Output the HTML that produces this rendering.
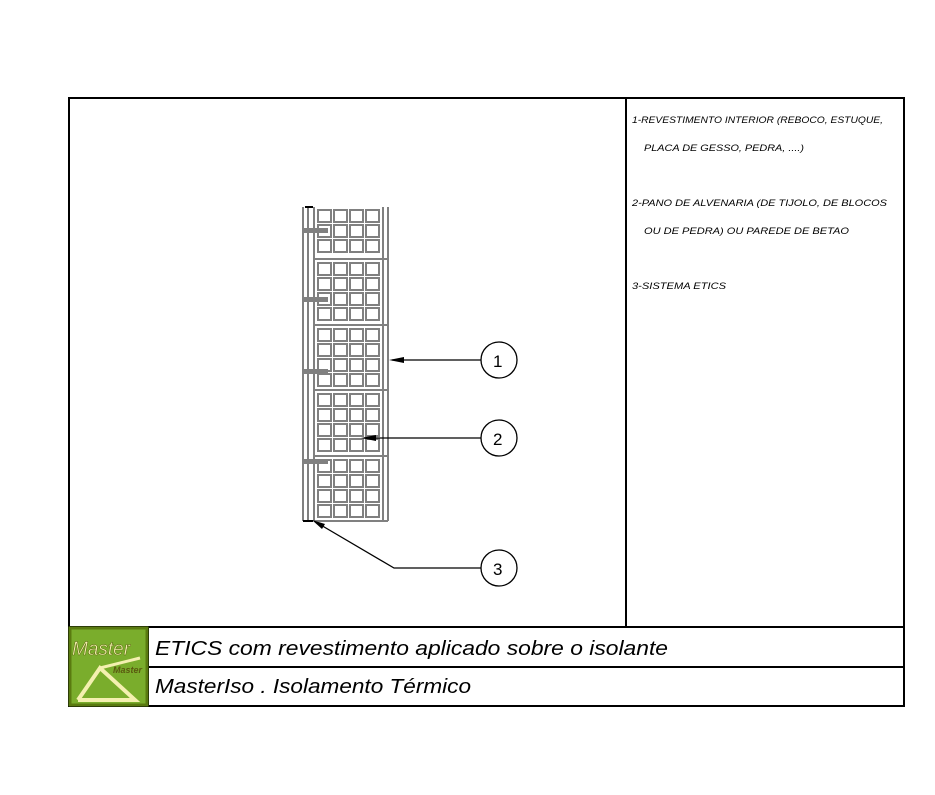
<!DOCTYPE html>
<html><head><style>
body{margin:0;background:#fff;width:935px;height:795px;overflow:hidden}
svg{display:block}
text{font-family:"Liberation Sans",sans-serif;font-style:italic}
</style></head><body>
<svg width="935" height="795" viewBox="0 0 935 795">
<defs>
<g id="r" fill="#fff" stroke="#808080" stroke-width="2">
<rect x="318" y="0" width="13" height="12"/><rect x="334" y="0" width="13" height="12"/><rect x="350" y="0" width="13" height="12"/><rect x="366" y="0" width="13" height="12"/>
</g>
</defs>
<g stroke="#000" stroke-width="2" fill="none">
<rect x="69" y="98" width="835" height="608"/>
<line x1="626" y1="98" x2="626" y2="627"/>
<line x1="69" y1="627" x2="904" y2="627"/>
<line x1="148" y1="667" x2="904" y2="667"/>
<line x1="148" y1="627" x2="148" y2="706"/>
</g>
<g font-size="9" fill="#000">
<text x="632" y="123" textLength="251" lengthAdjust="spacingAndGlyphs">1-REVESTIMENTO INTERIOR (REBOCO, ESTUQUE,</text>
<text x="644" y="151" textLength="160" lengthAdjust="spacingAndGlyphs">PLACA DE GESSO, PEDRA, ....)</text>
<text x="632" y="206" textLength="255" lengthAdjust="spacingAndGlyphs">2-PANO DE ALVENARIA (DE TIJOLO, DE BLOCOS</text>
<text x="644" y="234" textLength="205" lengthAdjust="spacingAndGlyphs">OU DE PEDRA) OU PAREDE DE BETAO</text>
<text x="632" y="289" textLength="94" lengthAdjust="spacingAndGlyphs">3-SISTEMA ETICS</text>
</g>
<text x="155" y="655" font-size="20" fill="#000" textLength="513" lengthAdjust="spacingAndGlyphs">ETICS com revestimento aplicado sobre o isolante</text>
<text x="155" y="693" font-size="20" fill="#000" textLength="316" lengthAdjust="spacingAndGlyphs">MasterIso . Isolamento Térmico</text>
<!-- logo -->
<rect x="70" y="628" width="77" height="77" fill="#7aad2c"/>
<rect x="70" y="628" width="77" height="77" fill="none" stroke="#5a7a10" stroke-width="3"/>
<text x="72" y="655" font-size="19" fill="#f4f0b0" stroke="#5a6a10" stroke-width="0.5">Master</text>
<polyline points="78,700 100,668 135,700 78,700" fill="none" stroke="#f4f0b0" stroke-width="4"/>
<polyline points="100,668 140,658" fill="none" stroke="#f4f0b0" stroke-width="3"/>
<text x="113" y="673" font-size="9" fill="#5a5a10" font-weight="bold">Master</text>
<!-- wall -->
<g fill="none" stroke="#808080" stroke-width="2">
<line x1="303" y1="207" x2="303" y2="521"/>
<line x1="308" y1="207" x2="308" y2="521"/>
<line x1="314" y1="207" x2="314" y2="521"/>
<line x1="388" y1="207" x2="388" y2="521"/>
<line x1="383" y1="207" x2="383" y2="521"/>
<line x1="314" y1="259" x2="388" y2="259"/>
<line x1="314" y1="325" x2="388" y2="325"/>
<line x1="314" y1="390" x2="388" y2="390"/>
<line x1="314" y1="456" x2="388" y2="456"/>
<line x1="314" y1="521" x2="388" y2="521"/>
</g>
<use href="#r" y="210"/><use href="#r" y="225"/><use href="#r" y="240"/>
<use href="#r" y="263"/><use href="#r" y="278"/><use href="#r" y="293"/><use href="#r" y="308"/>
<use href="#r" y="329"/><use href="#r" y="344"/><use href="#r" y="359"/><use href="#r" y="374"/>
<use href="#r" y="394"/><use href="#r" y="409"/><use href="#r" y="424"/><use href="#r" y="439"/>
<use href="#r" y="460"/><use href="#r" y="475"/><use href="#r" y="490"/><use href="#r" y="505"/>
<g fill="#808080">
<rect x="304" y="228" width="24" height="5"/>
<rect x="304" y="297" width="24" height="5"/>
<rect x="304" y="369" width="24" height="5"/>
<rect x="304" y="459" width="24" height="5"/>
</g>
<line x1="305" y1="207" x2="313" y2="207" stroke="#000" stroke-width="2"/>
<line x1="303" y1="521" x2="313" y2="521" stroke="#000" stroke-width="2"/>
<!-- callouts -->
<g stroke="#000" stroke-width="1.3" fill="none">
<circle cx="499" cy="360" r="18"/><circle cx="499" cy="438" r="18"/><circle cx="499" cy="568" r="18"/>
<line x1="481" y1="360" x2="392" y2="360"/>
<line x1="481" y1="438" x2="364" y2="438"/>
<polyline points="481,568 394,568 314,521"/>
</g>
<g fill="#000">
<polygon points="389,360 404,357 404,363"/>
<polygon points="361,438 376,435 376,441"/>
<polygon points="312,520 325,524 322,529"/>
</g>
<g font-size="17" fill="#000"><text x="493" y="367" style="font-style:normal">1</text><text x="493" y="445" style="font-style:normal">2</text><text x="493" y="575" style="font-style:normal">3</text></g>
</svg>
</body></html>
